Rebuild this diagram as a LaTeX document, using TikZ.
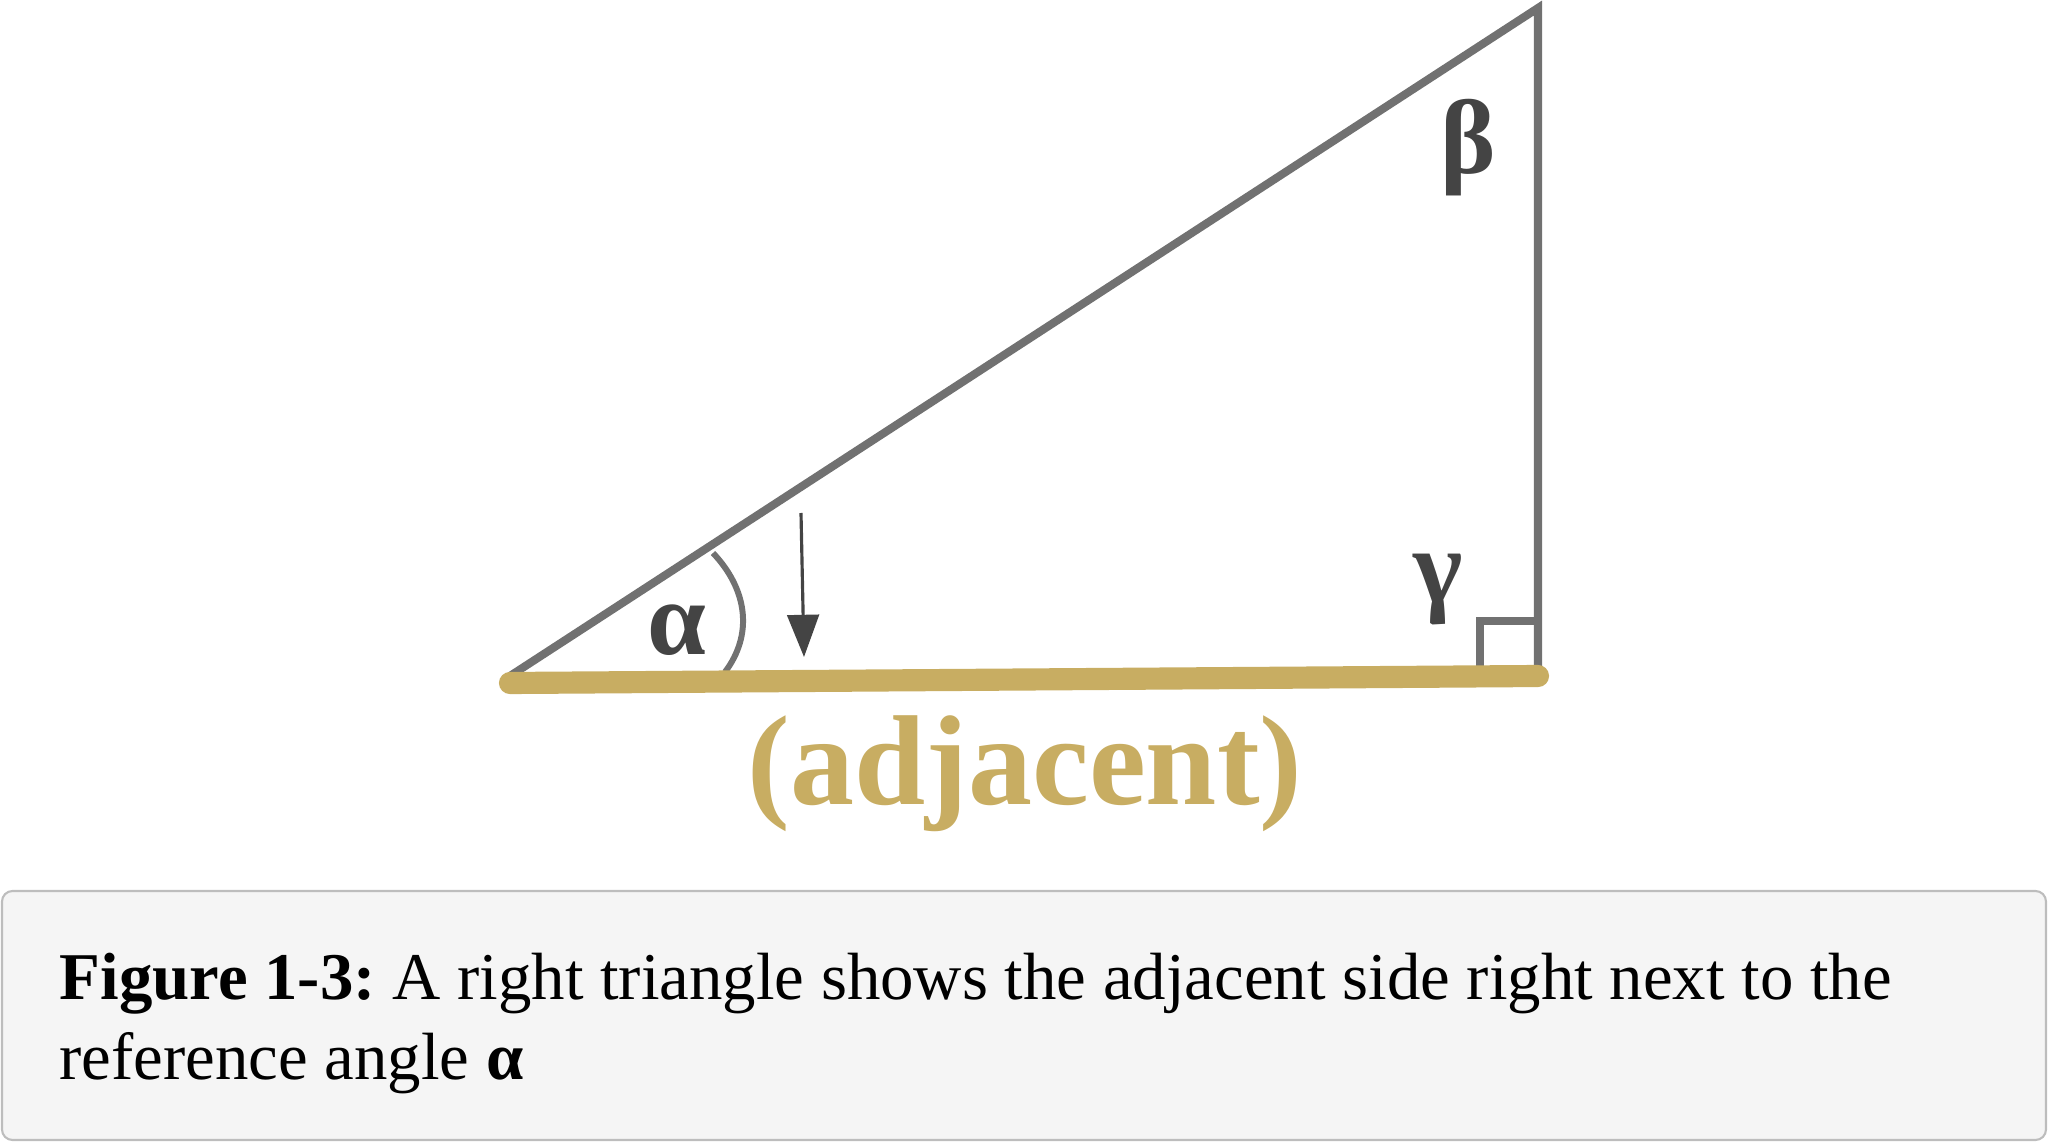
\documentclass[tikz,border=0pt]{standalone}
\usepackage{fontspec}
\setmainfont{Liberation Serif}
\usepackage{xcolor}
\usetikzlibrary{arrows.meta,calc}
\definecolor{sidegray}{HTML}{717171}
\definecolor{labelgray}{HTML}{444444}
\definecolor{adjgold}{HTML}{C8AD62}
\definecolor{capfill}{HTML}{F5F5F5}
\definecolor{capdraw}{HTML}{BDBDBD}
\frenchspacing
\begin{document}
\begin{tikzpicture}[x=0.01cm,y=-0.01cm,
    side/.style={draw=sidegray,line width=2.3pt},
    angletag/.style={inner sep=0pt,text=labelgray,font=\fontsize{30}{36}\selectfont\bfseries},
    pointer/.style={draw=labelgray,line width=0.9pt,-{Triangle[length=12pt,width=9pt]}}]
      \useasboundingbox (0,0) rectangle (2048,1143);
      \coordinate (A) at (510,676);
      \coordinate (B) at (1538,8);
      \coordinate (C) at (1538,676);
      \draw[side,line join=miter] (A) -- (B) -- (C);
      \draw[side] (1480,673) -- (1480,621) -- (1538,621);
      \draw[draw=sidegray,line width=1.7pt] (713,553) .. controls (748,590) and (753,635) .. (725,672);
      \draw[adjgold,line width=6.3pt,line cap=round] (510,683) -- (1538,676);
      \coordinate (arrS) at (801,513);
      \coordinate (arrE) at (804,657);
      \draw[pointer] (arrS) -- (arrE);
      \node[angletag] (alpha) at (677,630) {α};
      \node[angletag] (beta) at (1468,148) {β};
      \node[angletag] (gamma) at (1438,590) {γ};
      \node[anchor=base,inner sep=0pt,text=adjgold,font=\fontsize{36.4}{44}\selectfont\bfseries] (adj) at (1025,804) {(adjacent)};
      % caption panel
      \draw[draw=capdraw,fill=capfill,line width=0.6pt,rounded corners=3pt] (2,891) rectangle (2046,1140);
      \node[anchor=base west,inner sep=0pt,align=left,font=\fontsize{19}{22.5}\selectfont] (caption) at (59,1079)
        {\textbf{Figure 1-3:} A right triangle shows the adjacent side right next to the\\ reference angle \textbf{α}};
\end{tikzpicture}
\end{document}
